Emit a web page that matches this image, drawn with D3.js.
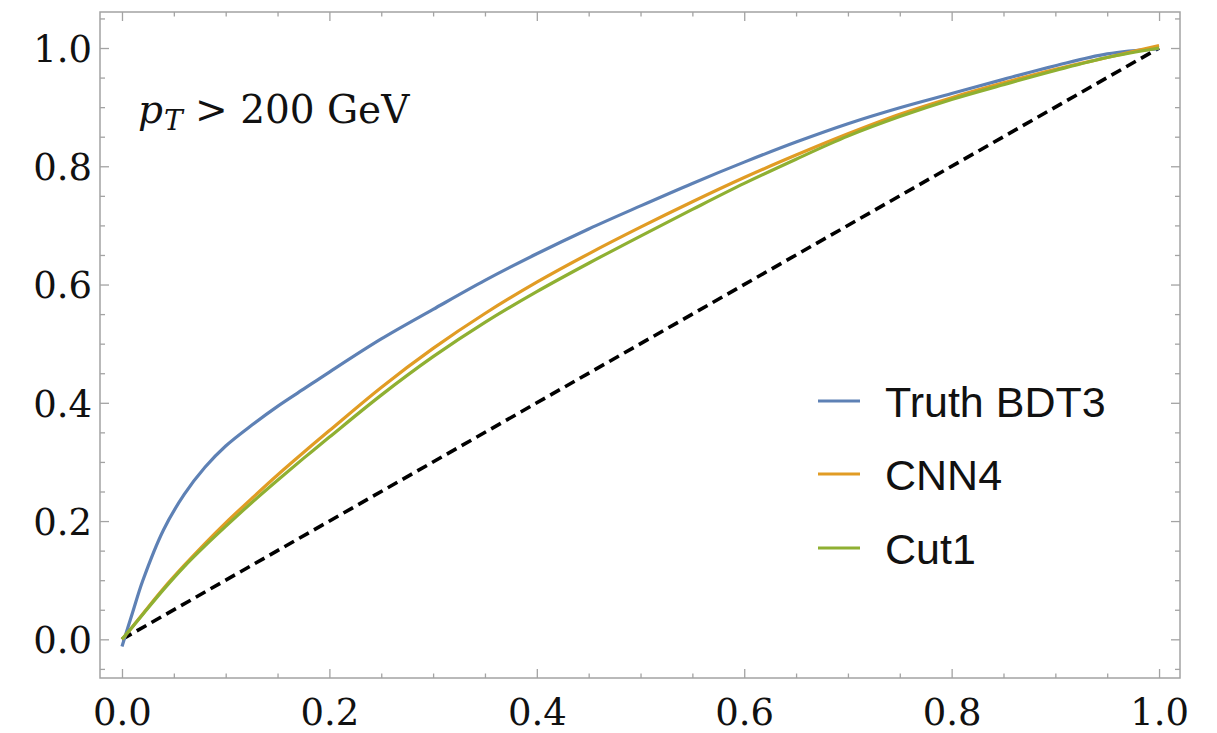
<!DOCTYPE html>
<html>
<head>
<meta charset="utf-8">
<script src="https://cdn.jsdelivr.net/npm/d3@7"></script>
<style>
  html, body { margin: 0; padding: 0; background: #fff; }
  svg { display: block; }
</style>
</head>
<body>
<svg id="chart" width="1217" height="733"></svg>
<script>
// ROC curves: signal efficiency vs background efficiency
const falsePositive = [0, 0.01, 0.02, 0.04, 0.06, 0.08, 0.1, 0.125, 0.15, 0.175, 0.2,
  0.25, 0.3, 0.35, 0.4, 0.45, 0.5, 0.55, 0.6, 0.65, 0.7, 0.75, 0.8, 0.85, 0.9, 0.95, 1.0];

const truthBDT3 = [-0.012, 0.044, 0.099, 0.185, 0.245, 0.291, 0.327, 0.362, 0.394, 0.423, 0.452,
  0.508, 0.558, 0.607, 0.652, 0.694, 0.733, 0.771, 0.807, 0.841, 0.872, 0.899, 0.923, 0.947, 0.970, 0.990, 0.999];

const cnn4 = [0, 0.021, 0.043, 0.086, 0.125, 0.162, 0.197, 0.238, 0.278, 0.316, 0.353,
  0.426, 0.492, 0.551, 0.604, 0.652, 0.697, 0.740, 0.781, 0.819, 0.855, 0.888, 0.916, 0.941, 0.964, 0.984, 1.004];

const cut1 = [0, 0.021, 0.042, 0.084, 0.123, 0.158, 0.191, 0.231, 0.269, 0.306, 0.342,
  0.413, 0.478, 0.536, 0.588, 0.636, 0.682, 0.727, 0.771, 0.812, 0.851, 0.884, 0.913, 0.938, 0.962, 0.984, 1.0];

const seriesNames = ["Truth BDT3", "CNN4", "Cut1"];
const seriesValues = [truthBDT3, cnn4, cut1];
const seriesColors = ["#5E81B5", "#E19C24", "#8FB032"];

const majorTicks = [0, 0.2, 0.4, 0.6, 0.8, 1.0];
const tickLabels = ["0.0", "0.2", "0.4", "0.6", "0.8", "1.0"];
const cutLabel = { symbol: "p", sub: "T", rest: " > 200 GeV" };

const svg = d3.select("#chart");
const frame = { left: 100, right: 1180, top: 12, bottom: 678 };

const x = d3.scaleLinear().domain([-0.0212, 1.0202]).range([frame.left, frame.right]);
const y = d3.scaleLinear().domain([-0.0654, 1.0609]).range([frame.bottom, frame.top]);

const isMajor = v => Math.abs(v * 5 - Math.round(v * 5)) < 1e-6;
const xMinor = d3.range(0, 21).map(i => i * 0.05).filter(v => !isMajor(v));
const yMinor = d3.range(-1, 22).map(i => i * 0.05).filter(v => v > -0.0654 && v < 1.0609 && !isMajor(v));

const frameColor = "#a3a3a3";
const tickFont = "'DejaVu Serif', serif";

// frame
svg.append("rect")
  .attr("x", frame.left).attr("y", frame.top)
  .attr("width", frame.right - frame.left).attr("height", frame.bottom - frame.top)
  .attr("fill", "none").attr("stroke", frameColor).attr("stroke-width", 1.5);

// inward ticks on all four sides
function drawAxis(axisGen, transform, labels) {
  const g = svg.append("g").attr("transform", transform).call(axisGen);
  g.select(".domain").remove();
  g.selectAll(".tick line").attr("stroke", frameColor).attr("stroke-width", 1.3);
  if (!labels) g.selectAll(".tick text").remove();
  return g;
}

// bottom
drawAxis(d3.axisBottom(x).tickValues(xMinor).tickSize(-4.5).tickFormat(""), `translate(0,${frame.bottom})`, false);
const xb = drawAxis(d3.axisBottom(x).tickValues(majorTicks).tickSize(-9).tickFormat((d, i) => tickLabels[i]), `translate(0,${frame.bottom})`, true);
xb.selectAll(".tick text")
  .attr("y", 47).attr("dy", 0)
  .attr("font-family", tickFont).attr("font-size", 37).attr("fill", "#111");
// top
drawAxis(d3.axisTop(x).tickValues(xMinor).tickSize(-4.5).tickFormat(""), `translate(0,${frame.top})`, false);
drawAxis(d3.axisTop(x).tickValues(majorTicks).tickSize(-9).tickFormat(""), `translate(0,${frame.top})`, false);
// left
drawAxis(d3.axisLeft(y).tickValues(yMinor).tickSize(-5).tickFormat(""), `translate(${frame.left},0)`, false);
const yl = drawAxis(d3.axisLeft(y).tickValues(majorTicks).tickSize(-9).tickFormat((d, i) => tickLabels[i]), `translate(${frame.left},0)`, true);
yl.selectAll(".tick text")
  .attr("x", -8).attr("dy", "0.36em")
  .attr("font-family", tickFont).attr("font-size", 37).attr("fill", "#111");
// right
drawAxis(d3.axisRight(y).tickValues(yMinor).tickSize(-5).tickFormat(""), `translate(${frame.right},0)`, false);
drawAxis(d3.axisRight(y).tickValues(majorTicks).tickSize(-9).tickFormat(""), `translate(${frame.right},0)`, false);

// random-guess diagonal
svg.append("line")
  .attr("x1", x(0)).attr("y1", y(0)).attr("x2", x(1)).attr("y2", y(1))
  .attr("stroke", "#000").attr("stroke-width", 3.6)
  .attr("stroke-dasharray", "11,6");

// ROC curves
const line = d3.line()
  .x(d => x(d[0])).y(d => y(d[1]))
  .curve(d3.curveCatmullRom.alpha(0.5));

seriesValues.forEach((vals, i) => {
  const pts = falsePositive.map((fp, j) => [fp, vals[j]]);
  svg.append("path")
    .datum(pts)
    .attr("d", line)
    .attr("fill", "none")
    .attr("stroke", seriesColors[i])
    .attr("stroke-width", 3.2)
    .attr("stroke-linejoin", "round");
});

// pT cut annotation
const ann = svg.append("text")
  .attr("x", 138).attr("y", 123)
  .attr("font-family", tickFont).attr("font-size", 39).attr("fill", "#111");
ann.append("tspan").attr("font-style", "italic").text(cutLabel.symbol);
ann.append("tspan").attr("font-style", "italic").attr("font-size", 28).attr("dy", 7).attr("dx", 1).text(cutLabel.sub);
ann.append("tspan").attr("dy", -7).text(cutLabel.rest);

// legend
const legend = svg.append("g");
const legendY = [401, 474, 548];
seriesNames.forEach((name, i) => {
  legend.append("line")
    .attr("x1", 818).attr("x2", 860)
    .attr("y1", legendY[i]).attr("y2", legendY[i])
    .attr("stroke", seriesColors[i]).attr("stroke-width", 3.2);
  legend.append("text")
    .attr("x", 885).attr("y", legendY[i] + 16)
    .attr("font-family", "'Liberation Sans', Arial, sans-serif")
    .attr("font-size", 43).attr("fill", "#111")
    .text(name);
});
</script>
</body>
</html>
